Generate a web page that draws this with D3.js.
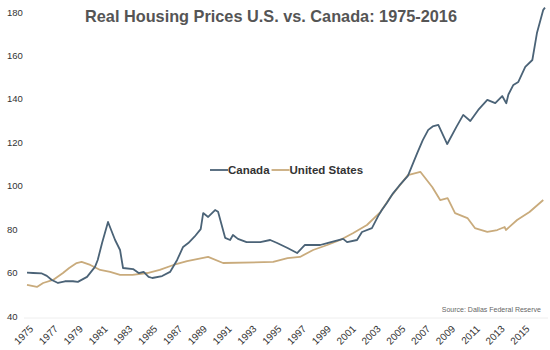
<!DOCTYPE html>
<html>
<head>
<meta charset="utf-8">
<script src="https://cdn.jsdelivr.net/npm/d3@7"></script>
<style>
  body { margin: 0; background: #fff; }
  svg { font-family: "Liberation Sans", Arial, sans-serif; }
</style>
</head>
<body>
<div id="visualization"></div>
<script>
// Canada, [decimal year, index]
const canada = [
  [1975.0, 60], [1975.5, 59.8], [1976.2, 59.6], [1976.6, 58.5], [1977.0, 56.6],
  [1977.5, 55.2], [1978.06, 56], [1978.7, 56], [1979.1, 55.7], [1979.84, 58],
  [1980.48, 62.6], [1980.7, 65.8], [1981.05, 73.6], [1981.53, 83.3], [1982.1, 75],
  [1982.5, 70.4], [1982.74, 62.1], [1983.55, 61.6], [1984.0, 59.8], [1984.4, 60.3],
  [1984.8, 58], [1985.1, 57.5], [1985.89, 58.4], [1986.53, 60.3], [1987.1, 65.8],
  [1987.58, 71.8], [1988.0, 73.6], [1988.5, 76.5], [1989.0, 80], [1989.2, 87.4],
  [1989.6, 85.6], [1990.16, 88.8], [1990.4, 88], [1990.97, 76], [1991.37, 75],
  [1991.6, 77.3], [1992.0, 75.5], [1992.7, 74], [1993.8, 74], [1994.6, 75],
  [1995.16, 73.6], [1996.0, 71.3], [1996.77, 69], [1997.4, 72.7], [1998.63, 72.7],
  [1999.2, 73.6], [2000.48, 75.5], [2000.8, 74], [2001.6, 75], [2002.0, 78.7],
  [2002.8, 80.5], [2003.3, 86], [2003.6, 88.8], [2004.0, 92], [2004.5, 96.5],
  [2005.0, 100], [2005.7, 104.5], [2006.45, 115], [2006.9, 121], [2007.34, 125.7],
  [2007.7, 127.3], [2008.15, 128], [2008.87, 119.2], [2009.6, 127], [2010.16, 132.6],
  [2010.73, 129.8], [2011.37, 134.9], [2012.1, 139.5], [2012.74, 138], [2013.3, 141.3],
  [2013.63, 138], [2013.8, 142], [2014.2, 146.4], [2014.6, 147.8], [2015.16, 154.7],
  [2015.73, 157.9], [2016.1, 170.3], [2016.61, 181], [2016.75, 182]
];

// United States, [decimal year, index]
const unitedStates = [
  [1975.0, 54.3], [1975.8, 53.4], [1976.3, 55.2], [1977.1, 56.6], [1977.9, 59.8],
  [1978.4, 62.1], [1979.0, 64.4], [1979.4, 64.9], [1980.1, 63.5], [1980.9, 61.2],
  [1981.7, 60.3], [1982.5, 58.9], [1983.5, 58.9], [1984.7, 59.8], [1985.7, 61.2],
  [1986.8, 63.5], [1987.9, 65.3], [1989.6, 67.2], [1990.8, 64.4], [1994.84, 64.9],
  [1996.0, 66.7], [1997.0, 67.2], [1998.06, 70.4], [1999.2, 72.7], [2000.24, 75],
  [2001.3, 78.2], [2002.4, 81.9], [2003.5, 88], [2004.3, 94.8], [2005.7, 104.9],
  [2006.7, 106.4], [2007.66, 99.4], [2008.3, 93.4], [2008.9, 94.3], [2009.5, 87.4],
  [2010.5, 85.1], [2011.1, 80.5], [2012.1, 78.7], [2012.9, 79.6], [2013.5, 81],
  [2013.6, 79.6], [2014.5, 84.2], [2015.5, 87.9], [2016.61, 93.4]
];

const yTicks = [40, 60, 80, 100, 120, 140, 160, 180];
const xTicks = d3.range(1975, 2016, 2);

const seriesNames = ['Canada', 'United States'];
const seriesColors = ['#4b6377', '#c9ab7c'];

const width = 550;
const height = 350;

const svg = d3.select('#visualization')
    .append('svg')
    .attr('width', width)
    .attr('height', height);

const xScale = d3.scaleLinear()
    .domain([1975, 2016.75])
    .range([27, 545]);

const yScale = d3.scaleLinear()
    .domain([40, 180])
    .range([316, 12]);

// Title
svg.append('text')
    .attr('x', 271)
    .attr('y', 22)
    .attr('text-anchor', 'middle')
    .attr('font-size', 16.3)
    .attr('font-weight', 'bold')
    .attr('fill', '#555')
    .text('Real Housing Prices U.S. vs. Canada: 1975-2016');

// Baseline
svg.append('line')
    .attr('x1', 24).attr('x2', 548)
    .attr('y1', 318).attr('y2', 318)
    .attr('stroke', '#eee');

// Y axis labels
const yAxis = svg.append('g')
    .attr('transform', 'translate(7,0)')
    .call(d3.axisRight(yScale).tickValues(yTicks).tickSize(0).tickPadding(0));
yAxis.select('.domain').remove();
yAxis.selectAll('text')
    .attr('font-size', 9.5)
    .attr('fill', '#333')
    .attr('font-family', '"Liberation Sans", Arial, sans-serif');

// X axis labels, rotated 45 degrees (CSS transform)
const xAxis = svg.append('g')
    .attr('transform', 'translate(0,318)')
    .call(d3.axisBottom(xScale).tickValues(xTicks).tickFormat(d3.format('d')).tickSize(0));
xAxis.select('.domain').remove();
xAxis.selectAll('.tick text')
    .attr('font-size', 10)
    .attr('fill', '#333')
    .attr('font-family', '"Liberation Sans", Arial, sans-serif')
    .attr('text-anchor', 'end')
    .attr('x', 0)
    .attr('y', 0)
    .attr('dy', '0.35em')
    .style('transform-box', 'view-box')
    .style('transform-origin', '0px 0px')
    .style('transform', 'translate(4px, 9px) rotate(-45deg)');

// Lines
const line = d3.line()
    .x(d => xScale(d[0]))
    .y(d => yScale(d[1]));

[unitedStates, canada].forEach((data, i) => {
    svg.append('path')
        .datum(data)
        .attr('fill', 'none')
        .attr('stroke', i === 0 ? seriesColors[1] : seriesColors[0])
        .attr('stroke-width', 1.8)
        .attr('stroke-linejoin', 'round')
        .attr('d', line);
});

// Legend
const legend = svg.append('g').attr('transform', 'translate(210,170)');
let lx = 0;
seriesNames.forEach((name, i) => {
    legend.append('line')
        .attr('x1', lx).attr('x2', lx + 18)
        .attr('y1', 0).attr('y2', 0)
        .attr('stroke', seriesColors[i])
        .attr('stroke-width', 1.8);
    const t = legend.append('text')
        .attr('x', lx + 18)
        .attr('y', 4)
        .attr('font-size', 11.5)
        .attr('font-weight', 'bold')
        .attr('fill', '#333')
        .text(name);
    lx += 18 + t.node().getComputedTextLength() + 2;
});

// Source note
svg.append('text')
    .attr('x', 541)
    .attr('y', 312)
    .attr('text-anchor', 'end')
    .attr('font-size', 7)
    .attr('fill', '#666')
    .text('Source: Dallas Federal Reserve');
</script>
</body>
</html>
